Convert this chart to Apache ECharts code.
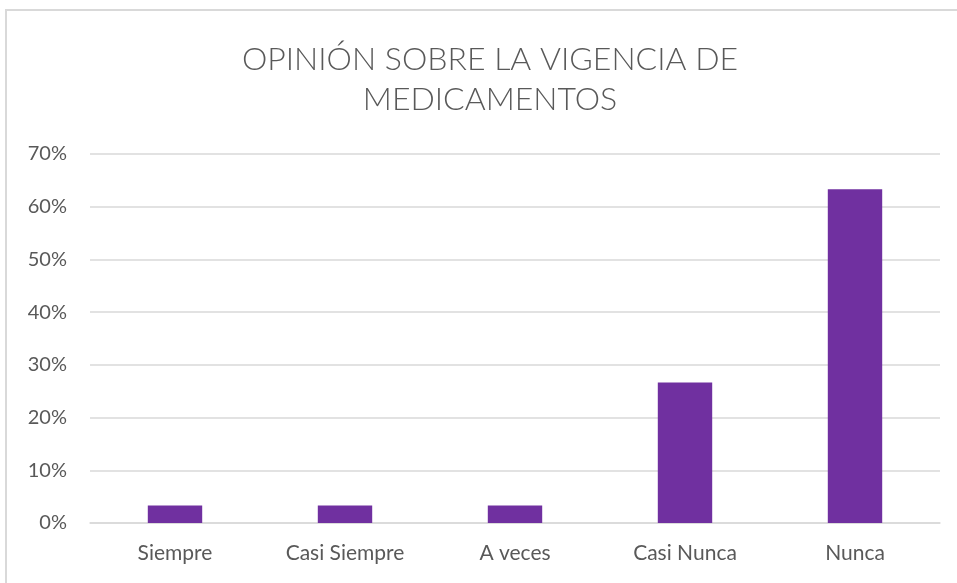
<!DOCTYPE html>
<html>
<head>
<meta charset="utf-8">
<script src="https://cdn.jsdelivr.net/npm/echarts@6/dist/echarts.min.js"></script>
<style>
html, body { margin: 0; padding: 0; background: #fff; overflow: hidden; }
#frame { position: absolute; left: 5px; top: 9px; width: 1000px; height: 700px; border-left: 2px solid #d9d9d9; border-top: 2px solid #d9d9d9; }
#chart { position: absolute; left: 0; top: 0; width: 957px; height: 583px; }
</style>
</head>
<body>
<div id="frame"></div>
<div id="chart"></div>
<script>
// datos del gráfico
var categorias = ['Siempre', 'Casi Siempre', 'A veces', 'Casi Nunca', 'Nunca'];
var porcentajes = [3.33, 3.33, 3.33, 26.67, 63.33];
var titulo = 'OPINIÓN SOBRE LA VIGENCIA DE\nMEDICAMENTOS';

var chart = echarts.init(document.getElementById('chart'), null, { renderer: 'canvas' });
chart.setOption({
    animation: false,
    title: {
        text: titulo,
        left: 485,
        top: 35,
        textAlign: 'center',
        textStyle: {
            fontFamily: 'Lato',
            fontWeight: 300,
            fontSize: 32,
            lineHeight: 40,
            color: '#595959'
        }
    },
    grid: {
        left: 90,
        right: 17,
        top: 154,
        bottom: 60
    },
    xAxis: {
        type: 'category',
        data: categorias,
        axisLine: { lineStyle: { color: '#d9d9d9', width: 1.5 } },
        axisTick: { show: false },
        axisLabel: {
            margin: 20,
            fontFamily: 'Lato',
            fontSize: 21,
            color: '#595959'
        }
    },
    yAxis: {
        type: 'value',
        min: 0,
        max: 70,
        interval: 10,
        axisLine: { show: false },
        axisTick: { show: false },
        splitLine: { lineStyle: { color: '#d9d9d9', width: 1.5 } },
        axisLabel: {
            margin: 23,
            formatter: '{value}%',
            fontFamily: 'Lato',
            fontSize: 20,
            color: '#595959'
        }
    },
    series: [
        {
            name: 'Opinión',
            type: 'bar',
            barWidth: '32%',
            data: porcentajes,
            itemStyle: { color: '#7030A0' }
        }
    ]
});
</script>
</body>
</html>
